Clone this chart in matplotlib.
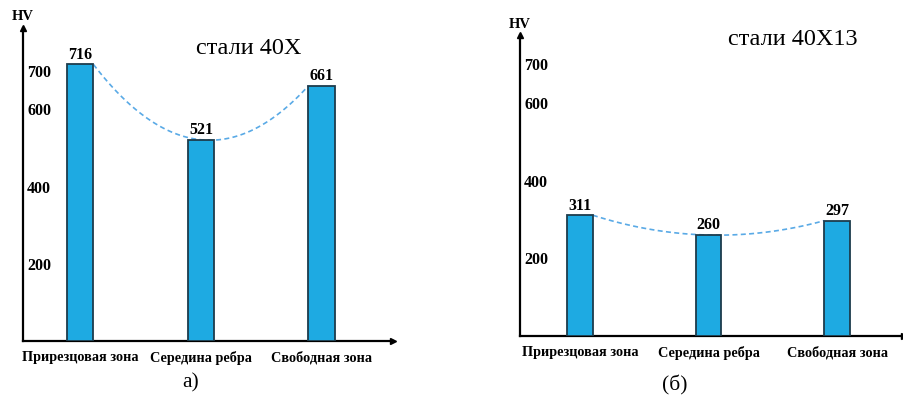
import numpy as np
import matplotlib.pyplot as plt

plt.rcParams['font.family'] = ['Liberation Serif', 'DejaVu Serif']

zones = ["Прирезцовая зона", "Середина ребра", "Свободная зона"]
hv_40x = [716, 521, 661]
hv_40x13 = [311, 260, 297]
yticks = [200, 400, 600, 700]

bar_color = "#1eaae2"
edge_color = "#1d3c4c"
line_color = "#5aaae6"


def panel(ax, values, title, letter, ymax, xlim, width, title_xy, letter_xy):
    x = np.arange(len(values))
    ax.bar(x, values, width=width, color=bar_color, edgecolor=edge_color,
           linewidth=1.3, zorder=3)
    for xi, v in zip(x, values):
        ax.text(xi, v + 4, str(v), ha="center", va="bottom",
                fontsize=11.5, fontweight="bold")

    # smoothed dashed trend from bar corners
    px = np.array([x[0] + width / 2, x[1], x[2] - width / 2])
    coef = np.polyfit(px, values, 2)
    xs = np.linspace(px[0], px[-1], 100)
    ax.plot(xs, np.polyval(coef, xs), ls="--", color=line_color, lw=1.2,
            dashes=(3, 2), zorder=2)

    ax.set_xlim(*xlim)
    ax.set_ylim(0, ymax)
    for s in ["top", "right"]:
        ax.spines[s].set_visible(False)
    ax.spines["left"].set_linewidth(1.6)
    ax.spines["bottom"].set_linewidth(1.6)
    ax.plot(1, 0, ">", color="black", ms=5, transform=ax.transAxes,
            clip_on=False)
    ax.plot(0, 1, "^", color="black", ms=5, transform=ax.transAxes,
            clip_on=False)
    ax.text(0, 1.015, "HV", transform=ax.transAxes, ha="center", va="bottom",
            fontsize=10.5, fontweight="bold")

    ax.set_yticks(yticks)
    ax.set_yticklabels([str(t) for t in yticks], fontsize=11.5,
                       fontweight="bold", ha="left")
    ax.tick_params(axis="y", length=0, pad=-3)
    ax.set_xticks(x)
    ax.set_xticklabels(zones, fontsize=10.3, fontweight="bold")
    ax.tick_params(axis="x", length=0, pad=7)

    ax.text(title_xy[0], title_xy[1], title, transform=ax.transAxes,
            ha="center", va="center", fontsize=17.5)
    ax.text(letter_xy[0], letter_xy[1], letter, transform=ax.transAxes,
            ha="center", va="center", fontsize=15.5)


fig = plt.figure(figsize=(9.04, 3.99), dpi=100)
ax1 = fig.add_axes([0.0254, 0.1454, 0.4093, 0.784])
ax2 = fig.add_axes([0.5752, 0.158, 0.4248, 0.754])

panel(ax1, hv_40x, "стали 40X", "а)", 810, (-0.477, 2.593), 0.216,
      (0.61, 0.935), (0.454, -0.135))
panel(ax2, hv_40x13, "стали 40X13", "(б)", 775, (-0.467, 2.52), 0.2,
      (0.71, 0.985), (0.404, -0.163))

fig.savefig("out.png", dpi=100)
